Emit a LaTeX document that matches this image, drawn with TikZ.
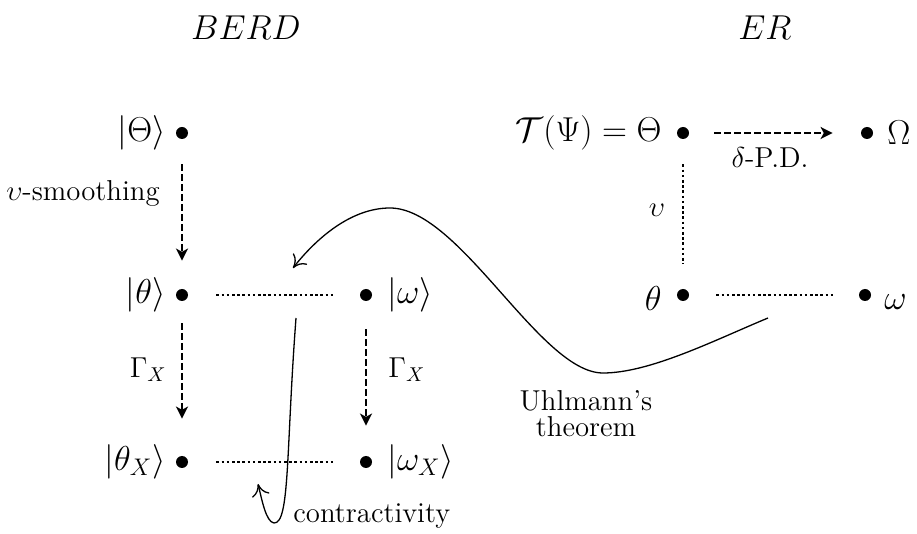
\documentclass[tikz,border=0pt]{standalone}
\usetikzlibrary{arrows.meta}
\begin{document}
\begin{tikzpicture}[x=0.5pt,y=-0.5pt,
  dot/.style={circle,fill=black,inner sep=0pt,minimum size=6pt},
  lab/.style={inner sep=0pt,font=\LARGE},
  hlab/.style={inner sep=0pt,font=\LARGE},
  elab/.style={inner sep=0pt,font=\Large},
  slab/.style={inner sep=0pt,font=\Large,align=center},
  darr/.style={line width=1.35pt,dash pattern=on 3.2pt off 1.8pt,-{Stealth[length=6pt,width=6pt,inset=1.6pt]}},
  dotl/.style={line width=1.3pt,dash pattern=on 1.3pt off 1.3pt},
  carr/.style={line width=0.65pt,-{Computer Modern Rightarrow[length=6pt,width=9pt]}}]
\useasboundingbox (0,0) rectangle (917,534);

% headers
\node[hlab] (berd) at (246,28) {$BERD$};
\node[hlab] (er) at (765,28) {$ER$};

% dots
\node[dot] (Th) at (182,133) {};
\node[dot] (th) at (182,295) {};
\node[dot] (thX) at (182,462) {};
\node[dot] (om) at (366,295) {};
\node[dot] (omX) at (366,462) {};
\node[dot] (ETh) at (683,133) {};
\node[dot] (EOm) at (867,133) {};
\node[dot] (Eth) at (683,295) {};
\node[dot] (Eom) at (865,295) {};

% node labels
\node[lab,anchor=east] (lTh) at (166,133) {$|\Theta\rangle$};
\node[lab,anchor=east] (lth) at (166,295) {$|\theta\rangle$};
\node[lab,anchor=east] (lthX) at (166,462) {$|\theta_X\rangle$};
\node[lab,anchor=west] (lom) at (387,295) {$|\omega\rangle$};
\node[lab,anchor=west] (lomX) at (387,462) {$|\omega_X\rangle$};
\node[lab,anchor=east] (lETh) at (662,133) {$\mathcal{T}(\Psi)=\Theta$};
\node[lab,anchor=west] (lEOm) at (887,133) {$\Omega$};
\node[lab,anchor=east] (lEth) at (662,299) {$\theta$};
\node[lab,anchor=west] (lEom) at (884,302) {$\omega$};

% edge labels
\node[elab] (smooth) at (83,193) {$\upsilon$-smoothing};
\node[elab,anchor=east] (gl) at (167,370) {$\Gamma_X$};
\node[elab,anchor=west] (gr) at (388,370) {$\Gamma_X$};
\node[elab] (pd) at (770,158) {$\delta$-P.D.};
\node[elab] (ups) at (657,210) {$\upsilon$};
\node[slab] (uhl) at (586,414) {Uhlmann's\\[-5pt]theorem};
\node[slab,anchor=west] (contr) at (293,516) {contractivity};

% dashed arrows
\draw[darr,shorten <=12.5pt,shorten >=14pt] (Th) -- (th);
\draw[darr,shorten <=11pt,shorten >=18.5pt] (th) -- (thX);
\draw[darr,shorten <=14pt,shorten >=15pt] (om) -- (omX);
\draw[darr,shorten <=12.5pt,shorten >=14pt] (ETh) -- (EOm);

% dotted lines
\draw[dotl,shorten <=14pt,shorten >=12pt] (th) -- (om);
\draw[dotl,shorten <=14pt,shorten >=12pt] (thX) -- (omX);
\draw[dotl,shorten <=12.5pt,shorten >=12.5pt] (ETh) -- (Eth);
\draw[dotl,shorten <=13.5pt,shorten >=12pt] (Eth) -- (Eom);

% curves
\coordinate (u0) at (768,318);
\coordinate (u1) at (293,268);
\draw[carr] (u0) .. controls (715,340) and (650,373) .. (603,373)
  .. controls (540,373) and (460,208) .. (390,208)
  .. controls (350,208) and (315,240) .. (u1);
\coordinate (c0) at (296,318);
\coordinate (c1) at (258,484);
\draw[carr] (c0) .. controls (286,450) and (290,524) .. (274,523)
  .. controls (266,522) and (262,500) .. (c1);
\end{tikzpicture}
\end{document}
